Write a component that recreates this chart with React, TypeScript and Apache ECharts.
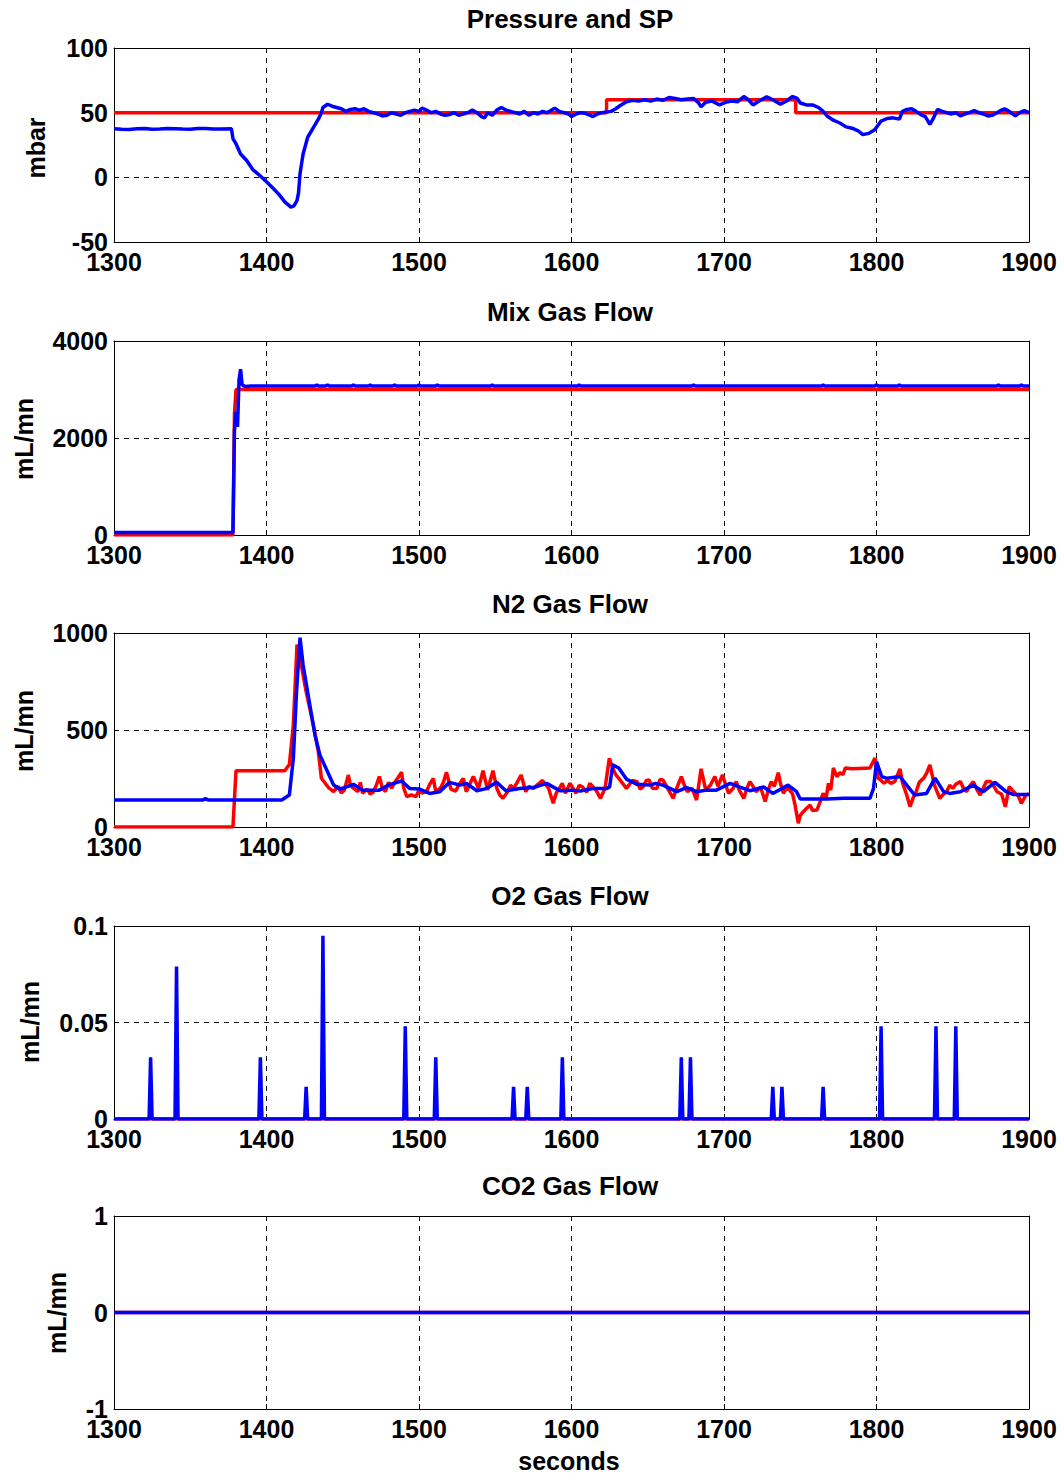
import React, { useEffect, useRef } from "react";
import * as echarts from "echarts";

// ---------- data ----------
const titles = ["Pressure and SP", "Mix Gas Flow", "N2 Gas Flow", "O2 Gas Flow", "CO2 Gas Flow"];
const yUnits = ["mbar", "mL/mn", "mL/mn", "mL/mn", "mL/mn"];
const xLabel = "seconds";
const xMin = 1300;
const xMax = 1900;
const xStep = 100;
const yMin = [-50, 0, 0, 0, -1];
const yMax = [100, 4000, 1000, 0.1, 1];
const yStep = [50, 2000, 500, 0.05, 1];

const pressureSP: number[][] = [
  [1300, 50], [1623, 50], [1623, 60], [1747, 60], [1747, 50], [1900, 50],
];
const pressureMeas: number[][] = [
  [1300, 37.5], [1305, 37.2], [1310, 37], [1315, 37.6], [1320, 37.8], [1325, 37.2], [1330, 37.3], [1335, 37.8],
  [1340, 37.6], [1345, 37.3], [1350, 37.2], [1355, 37.7], [1360, 37.7], [1365, 37.3], [1370, 37.4],
  [1377, 37.5], [1378, 30], [1380, 26], [1383, 18], [1387, 13], [1391, 6], [1396, 1], [1400, -3.4], [1404, -8],
  [1408, -13], [1412, -19], [1416, -23], [1418, -22], [1420, -18], [1421, -12], [1422, 3], [1424, 18], [1427, 31],
  [1431, 39], [1434, 45], [1436, 50], [1437, 54], [1440, 56.5], [1443, 55], [1446, 54], [1449, 53], [1452, 51],
  [1455, 52.5], [1458, 53], [1461, 52], [1464, 53], [1467, 51], [1470, 50], [1473, 49], [1476, 47.5], [1479, 48],
  [1482, 50], [1485, 49], [1488, 48], [1491, 50], [1494, 51], [1497, 52], [1500, 51], [1502, 53.5], [1505, 52],
  [1508, 50], [1511, 51], [1514, 49], [1517, 48], [1520, 48.5], [1523, 50], [1526, 48], [1529, 49], [1532, 50],
  [1535, 52], [1538, 50], [1541, 47], [1543, 46], [1545, 50], [1548, 48], [1551, 52], [1554, 54], [1557, 52],
  [1560, 51], [1563, 50], [1566, 49], [1569, 51], [1572, 48], [1575, 50], [1578, 49], [1581, 51], [1584, 50],
  [1587, 52], [1589, 53.5], [1592, 51], [1595, 50], [1598, 49], [1600, 47], [1603, 49], [1606, 50], [1609, 49.5],
  [1612, 48], [1614, 47], [1617, 49], [1620, 50], [1623, 50.5], [1626, 51], [1629, 53], [1632, 55.5], [1636, 58.5],
  [1640, 59.5], [1644, 59], [1648, 60], [1652, 59], [1656, 60.5], [1660, 59.5], [1664, 61.7], [1668, 61], [1672, 60],
  [1676, 60.5], [1680, 61], [1683, 58], [1685, 54.5], [1688, 58], [1692, 59], [1697, 56], [1701, 58], [1705, 59],
  [1709, 58.5], [1713, 62.5], [1716, 60], [1719, 56], [1723, 59], [1728, 62.3], [1732, 60], [1737, 56.5], [1741, 59],
  [1745, 62.5], [1748, 61], [1750, 57.5], [1754, 56], [1758, 56], [1762, 54], [1765, 51], [1768, 47], [1772, 44],
  [1776, 42], [1780, 39], [1784, 38], [1788, 36], [1791, 33], [1795, 34], [1799, 37], [1803, 43.5], [1807, 45.5],
  [1811, 46], [1815, 45], [1817, 51], [1820, 52.5], [1823, 53], [1826, 51], [1829, 48.5], [1832, 47], [1835, 41],
  [1837, 45], [1840, 52.5], [1843, 51], [1846, 50], [1849, 49], [1852, 50], [1855, 47.5], [1858, 49], [1861, 50],
  [1864, 51.7], [1867, 50], [1870, 49], [1873, 47.5], [1876, 48], [1879, 50], [1882, 52], [1884, 53], [1887, 51],
  [1891, 47.5], [1894, 50], [1897, 51.5], [1900, 50],
];

const mixSP: number[][] = [
  [1300, 0], [1378, 0], [1379, 2500], [1380, 3000], [1900, 3000],
];
const mixMeas: number[][] = [
  [1300, 50], [1378, 50], [1379, 2160], [1380, 2540], [1381, 2230], [1382, 3200], [1383, 3420], [1384, 3100],
  [1386, 3060], [1390, 3070], [1432, 3070], [1433, 3100], [1434, 3070], [1439, 3070], [1440, 3100], [1441, 3070],
  [1456, 3070], [1457, 3100], [1458, 3070], [1467, 3070], [1468, 3095], [1469, 3070], [1483, 3070], [1484, 3100],
  [1485, 3070], [1499, 3070], [1500, 3095], [1501, 3070], [1511, 3070], [1512, 3100], [1513, 3070], [1547, 3070],
  [1548, 3095], [1549, 3070], [1604, 3070], [1605, 3095], [1606, 3070], [1679, 3070], [1680, 3100], [1681, 3070],
  [1764, 3070], [1765, 3095], [1766, 3070], [1799, 3070], [1800, 3100], [1801, 3070], [1814, 3070], [1815, 3100],
  [1816, 3070], [1879, 3070], [1880, 3095], [1881, 3070], [1894, 3070], [1895, 3100], [1896, 3070], [1900, 3070],
];

const n2SP: number[][] = [
  [1300, 0], [1378, 0], [1380, 290], [1412, 290], [1415, 322], [1417.6, 526], [1420, 940], [1422, 870], [1426, 698],
  [1430.7, 526], [1434, 388], [1436, 251], [1441, 200], [1444, 183], [1447, 210], [1449, 175], [1451, 190],
  [1453.7, 268], [1455, 215], [1457, 200], [1460, 182], [1461.5, 230], [1463, 175], [1466, 195], [1468, 170],
  [1470, 180], [1472, 215], [1474, 260], [1476, 200], [1478, 183], [1480, 230], [1482, 200], [1485, 240],
  [1488.6, 282], [1490, 200], [1492, 156], [1495, 165], [1498, 156], [1500, 190], [1502, 175], [1505, 183],
  [1507, 220], [1509.4, 250], [1511, 182], [1514, 200], [1516, 230], [1518, 282], [1521, 195], [1524, 185],
  [1526, 215], [1529, 250], [1531, 182], [1533, 215], [1535.6, 260], [1539, 199], [1542, 290], [1545, 191],
  [1548.5, 290], [1551, 200], [1553, 165], [1555, 148], [1558, 180], [1560, 215], [1562, 199], [1564, 225],
  [1567, 268], [1570, 182], [1572, 210], [1575, 199], [1578, 220], [1581, 240], [1585, 199], [1588, 122],
  [1590, 175], [1592, 199], [1594, 225], [1596, 174], [1599, 225], [1603, 174], [1605, 215], [1607, 208],
  [1610, 180], [1612, 225], [1616, 191], [1619, 148], [1622, 200], [1624.8, 354], [1627, 304], [1629, 270],
  [1631, 251], [1634, 220], [1636, 199], [1640, 240], [1643, 234], [1645, 195], [1647, 208], [1649, 240],
  [1651, 242], [1653, 200], [1656, 199], [1658, 245], [1660, 242], [1663, 200], [1666.6, 148], [1669, 200],
  [1672, 260], [1674, 215], [1676, 182], [1679, 200], [1682, 139], [1685, 300], [1688, 191], [1691, 215],
  [1694, 260], [1696, 210], [1699, 268], [1701, 220], [1703, 174], [1706, 200], [1708, 234], [1710, 190],
  [1713, 148], [1715, 200], [1717, 234], [1719, 210], [1721, 182], [1724, 205], [1727, 131], [1729, 190],
  [1731, 234], [1733, 210], [1735.6, 280], [1737, 225], [1739, 174], [1741, 200], [1743, 191], [1745, 170],
  [1746.6, 113], [1748.7, 19], [1750, 60], [1752, 79], [1754, 95], [1756.5, 113], [1758, 85], [1761, 88],
  [1763, 130], [1765, 173], [1767, 150], [1768.5, 225], [1770, 190], [1771.7, 304], [1774, 260], [1776, 280],
  [1778, 270], [1779.5, 304], [1784, 300], [1795.7, 304], [1799, 355], [1801, 252], [1803, 240], [1805, 225],
  [1807, 240], [1809.5, 225], [1812, 235], [1815.4, 300], [1817, 230], [1819.8, 165], [1822, 105], [1824, 150],
  [1826, 182], [1828, 230], [1831, 252], [1833, 280], [1835, 320], [1838, 216], [1841.5, 148], [1844, 170],
  [1846, 182], [1848, 215], [1850, 199], [1852, 220], [1855, 235], [1857, 200], [1859, 182], [1861, 210],
  [1863.5, 234], [1866, 190], [1868, 165], [1870, 200], [1872, 235], [1875, 234], [1877, 210], [1879, 182],
  [1882, 170], [1884.5, 105], [1887, 208], [1889, 190], [1891, 174], [1893, 160], [1895, 122], [1898, 165],
  [1900, 170],
];
const n2Meas: number[][] = [
  [1300, 139], [1358, 139], [1360, 146], [1362, 139], [1410, 139], [1415, 165], [1417.6, 354], [1419.7, 698],
  [1422, 976], [1424, 835], [1427.3, 680], [1431.8, 474], [1435, 371], [1441, 268], [1444, 216], [1448, 196],
  [1452, 205], [1457, 220], [1463, 190], [1474, 190], [1481, 220], [1488.6, 237], [1494, 198], [1500, 196],
  [1507, 173], [1513.6, 182], [1520, 230], [1527, 216], [1531, 225], [1538, 187], [1544, 198], [1551, 230],
  [1557, 187], [1566, 198], [1575, 203], [1583.7, 225], [1592.5, 187], [1601, 190], [1605.6, 185], [1614, 198],
  [1623, 198], [1625, 206], [1627, 320], [1631, 304], [1636, 247], [1643, 220], [1651.5, 216], [1655, 225],
  [1660, 216], [1669, 182], [1675.5, 203], [1682, 182], [1688.5, 190], [1695, 190], [1704, 225], [1710.5, 206],
  [1717, 187], [1726, 206], [1732, 173], [1742, 216], [1747.6, 182], [1750, 144], [1767.5, 144], [1778.5, 148],
  [1795.7, 148], [1798, 198], [1800, 337], [1803.4, 260], [1807, 251], [1815.4, 260], [1819.8, 216], [1825, 165],
  [1832.8, 173], [1838.4, 252], [1844, 182], [1848, 173], [1855, 182], [1863.5, 216], [1870, 182], [1877.7, 230],
  [1885, 182], [1889.5, 168], [1900, 168],
];

const o2SP: number[][] = [[1300, 0], [1900, 0]];
const o2Meas: number[][] = [
  [1300, 0],
  [1323, 0], [1324, 0.032], [1325, 0],
  [1340, 0], [1341, 0.079], [1342, 0],
  [1395, 0], [1396, 0.032], [1397, 0],
  [1425, 0], [1426, 0.0167], [1427, 0],
  [1436, 0], [1437, 0.095], [1438, 0],
  [1490, 0], [1491, 0.048], [1492, 0],
  [1510, 0], [1511, 0.032], [1512, 0],
  [1561, 0], [1562, 0.0167], [1563, 0],
  [1570, 0], [1571, 0.0167], [1572, 0],
  [1593, 0], [1594, 0.032], [1595, 0],
  [1671, 0], [1672, 0.032], [1673, 0],
  [1677, 0], [1678, 0.032], [1679, 0],
  [1731, 0], [1732, 0.0167], [1733, 0],
  [1737, 0], [1738, 0.0167], [1739, 0],
  [1764, 0], [1765, 0.0167], [1766, 0],
  [1802, 0], [1803, 0.048], [1804, 0],
  [1838, 0], [1839, 0.048], [1840, 0],
  [1851, 0], [1852, 0.048], [1853, 0],
  [1900, 0],
];

const co2SP: number[][] = [[1300, 0], [1900, 0]];
const co2Meas: number[][] = [[1300, 0], [1900, 0]];

const spSeries = [pressureSP, mixSP, n2SP, o2SP, co2SP];
const measSeries = [pressureMeas, mixMeas, n2Meas, o2Meas, co2Meas];

// ---------- layout ----------
const gridTops = [48, 341, 633, 926, 1216];
const gridHeights = [194, 194, 194, 193, 193];
const gridLeft = 114;
const gridRight = 35;
const titleY = [19, 312, 604, 896, 1186];
const unitX = [36, 24, 24, 30, 57];
const unitY = [148, 439, 731, 1022, 1313];

const FONT = "'Liberation Sans', Arial, Helvetica, sans-serif";
const plain = (v: number) => String(Math.round(v * 1e6) / 1e6);

export default function App() {
  const ref = useRef<HTMLDivElement>(null);
  useEffect(() => {
    if (!ref.current) return;
    const chart = echarts.init(ref.current, null, { renderer: "svg" });

    const grids: any[] = [];
    const xAxes: any[] = [];
    const yAxes: any[] = [];
    const series: any[] = [];
    const graphics: any[] = [];

    for (let i = 0; i < 5; i++) {
      grids.push({ left: gridLeft, right: gridRight, top: gridTops[i], height: gridHeights[i], containLabel: false });
    }
    const lineBlack = { color: "#000", width: 1 };
    const dash = { color: "#111", width: 1, type: [5, 5] };
    for (let i = 0; i < 5; i++) {
      xAxes.push({
        type: "value", gridIndex: i, min: xMin, max: xMax, interval: xStep, position: "bottom",
        axisLine: { show: true, onZero: false, lineStyle: lineBlack },
        axisTick: { show: true, inside: true, length: 5, lineStyle: lineBlack },
        axisLabel: { color: "#000", fontSize: 25, fontWeight: "bold", fontFamily: FONT, margin: 7, formatter: plain },
        splitLine: { show: true, lineStyle: dash },
      });
      yAxes.push({
        type: "value", gridIndex: i, min: yMin[i], max: yMax[i], interval: yStep[i], position: "left",
        axisLine: { show: true, onZero: false, lineStyle: lineBlack },
        axisTick: { show: true, inside: true, length: 5, lineStyle: lineBlack },
        axisLabel: { color: "#000", fontSize: 25, fontWeight: "bold", fontFamily: FONT, margin: 6, formatter: plain },
        splitLine: { show: true, lineStyle: dash },
      });
    }
    for (let i = 0; i < 5; i++) {
      xAxes.push({
        type: "value", gridIndex: i, min: xMin, max: xMax, interval: xStep, position: "top",
        axisLine: { show: true, onZero: false, lineStyle: lineBlack },
        axisTick: { show: true, inside: true, length: 5, lineStyle: lineBlack },
        axisLabel: { show: false }, splitLine: { show: false },
      });
      yAxes.push({
        type: "value", gridIndex: i, min: yMin[i], max: yMax[i], interval: yStep[i], position: "right",
        axisLine: { show: true, onZero: false, lineStyle: lineBlack },
        axisTick: { show: true, inside: true, length: 5, lineStyle: lineBlack },
        axisLabel: { show: false }, splitLine: { show: false },
      });
    }
    for (let i = 0; i < 5; i++) {
      series.push({
        type: "line", xAxisIndex: i, yAxisIndex: i, data: spSeries[i], showSymbol: false, symbol: "none",
        lineStyle: { color: "#ff0000", width: 3.5 }, z: 3, silent: true,
      });
      series.push({
        type: "line", xAxisIndex: i, yAxisIndex: i, data: measSeries[i], showSymbol: false, symbol: "none",
        lineStyle: { color: "#0000ff", width: 3.5 }, z: 4, silent: true,
      });
      graphics.push({
        type: "text", x: 570, y: titleY[i],
        style: { text: titles[i], font: `bold 26px ${FONT}`, fill: "#000", textAlign: "center", textVerticalAlign: "middle" },
      });
      graphics.push({
        type: "text", x: unitX[i], y: unitY[i], rotation: Math.PI / 2,
        style: { text: yUnits[i], font: `bold 25px ${FONT}`, fill: "#000", textAlign: "center", textVerticalAlign: "middle" },
      });
    }
    graphics.push({
      type: "text", x: 569, y: 1461,
      style: { text: xLabel, font: `bold 25px ${FONT}`, fill: "#000", textAlign: "center", textVerticalAlign: "middle" },
    });

    chart.setOption({
      animation: false,
      backgroundColor: "#fff",
      grid: grids,
      xAxis: xAxes,
      yAxis: yAxes,
      series,
      graphic: graphics,
    });
    return () => chart.dispose();
  }, []);
  return (
    <div
      ref={ref}
      style={{ position: "absolute", left: 0, top: 0, width: 1064, height: 1475, background: "#fff" }}
    />
  );
}
